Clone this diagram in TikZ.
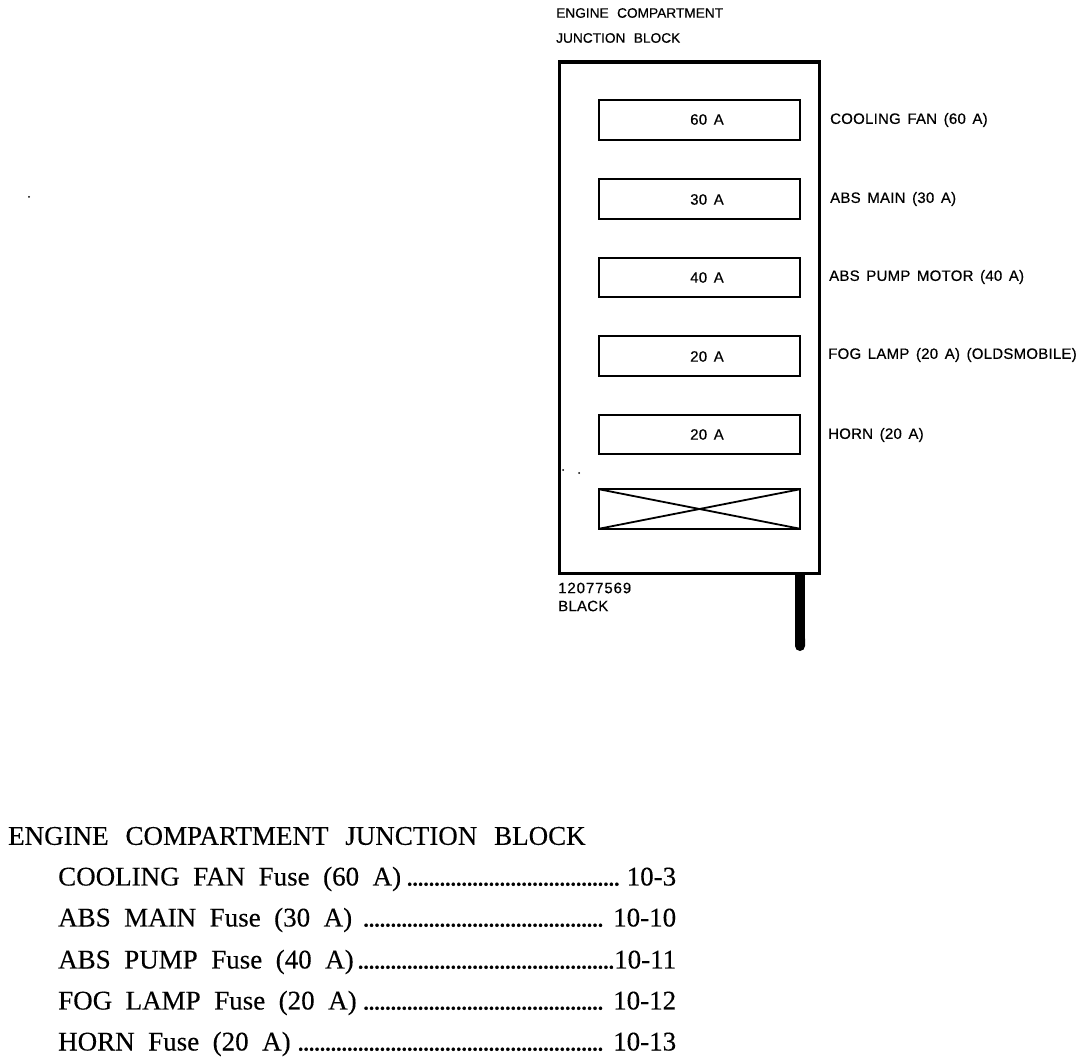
\documentclass[tikz,border=0pt]{standalone}
\usetikzlibrary{arrows.meta}
\usepackage{fontspec}
\setmainfont{Liberation Serif}[WordSpace=2,FakeBold=0.25]
\newfontfamily\headfont{Liberation Serif}[WordSpace=2.5,FakeBold=0.25]
\newfontfamily\dotfont{Liberation Serif}[FakeBold=1.2]
\newfontfamily\diagfont{Liberation Sans}[WordSpace=1.5,LetterSpace=1.6,FakeBold=0.5]
\newfontfamily\titlefont{Liberation Sans}[WordSpace=2.2,FakeBold=0.5]
\newfontfamily\partfont{Liberation Sans}[LetterSpace=6,FakeBold=0.5]
\newcommand{\dotrow}[4]{\hbox to 618pt{#1\hskip #3{\dotfont\leaders\hbox to 5.45pt{\hss.\hss}\hfill}\hskip #4 #2}}
\tikzset{
  diaglabel/.style={anchor=west,inner sep=0pt,font=\diagfont\fontsize{15}{15}\selectfont,text=black},
  titlelabel/.style={anchor=west,inner sep=0pt,font=\titlefont\fontsize{13.7}{14}\selectfont},
  partlabel/.style={anchor=west,inner sep=0pt,font=\partfont\fontsize{15}{15}\selectfont},
  fusebox/.style={draw=black,line width=2pt,minimum width=201pt,minimum height=39.5pt,inner sep=0pt,outer sep=0pt,fill=white},
  fusetext/.style={inner sep=0pt,font=\diagfont\fontsize{15}{15}\selectfont},
  listhead/.style={anchor=west,inner sep=0pt,font=\headfont\fontsize{27}{27}\selectfont},
  listrow/.style={anchor=west,inner sep=0pt,font=\fontsize{27}{27}\selectfont},
  speck/.style={fill=black,inner sep=0pt,minimum size=2pt,circle,draw=none}
}
\begin{document}
\begin{tikzpicture}[x=1pt,y=-1pt]
\useasboundingbox (0,0) rectangle (1088,1062);
\node[titlelabel] (t1) at (556,13) {ENGINE COMPARTMENT};
\node[titlelabel] (t2) at (556,38) {JUNCTION BLOCK};
\node[draw=black,line width=3.4pt,minimum width=260pt,minimum height=511pt,inner sep=0pt,anchor=north west] (block) at (558,60.5) {};
\node[fusebox] (f1) at (699,120) {};
\node[fusebox] (f2) at (699,199) {};
\node[fusebox] (f3) at (699,277.5) {};
\node[fusebox] (f4) at (699.5,356) {};
\node[fusebox] (f5) at (699.5,434.5) {};
\node[fusebox] (f6) at (699.5,509) {};
\draw[line width=1.8pt] (f6.north west) -- (f6.south east);
\draw[line width=1.8pt] (f6.south west) -- (f6.north east);
\node[fusetext] (a1) at (707,119.5) {60 A};
\node[fusetext] (a2) at (707,199.5) {30 A};
\node[fusetext] (a3) at (707,277.5) {40 A};
\node[fusetext] (a4) at (707,356.5) {20 A};
\node[fusetext] (a5) at (707,434.5) {20 A};
\node[diaglabel] (l1) at (830,120) {COOLING FAN (60 A)};
\node[diaglabel] (l2) at (830,199) {ABS MAIN (30 A)};
\node[diaglabel] (l3) at (829,277) {ABS PUMP MOTOR (40 A)};
\node[diaglabel] (l4) at (828,355) {FOG LAMP (20 A) (OLDSMOBILE)};
\node[diaglabel] (l5) at (828,435) {HORN (20 A)};
\node[partlabel] (n1) at (558,588) {12077569};
\node[diaglabel] (n2) at (558,606) {BLACK};
\coordinate (stubend) at (800,651);
\draw[line width=10pt,-{Round Cap[]}] (block.south -| stubend) -- (stubend);
\node[speck] (s1) at (29,197) {};
\node[speck] (s2) at (563,470) {};
\node[speck] (s3) at (579,473) {};
\node[listhead] (h) at (8,836) {ENGINE COMPARTMENT JUNCTION BLOCK};
\node[listrow] (r1) at (58,879) {\dotrow{COOLING FAN Fuse (60 A)}{10-3}{4pt}{6pt}};
\node[listrow] (r2) at (58,920) {\dotrow{ABS MAIN Fuse (30 A)}{10-10}{6pt}{7pt}};
\node[listrow] (r3) at (58,962) {\dotrow{ABS PUMP Fuse (40 A)}{10-11}{3pt}{0pt}};
\node[listrow] (r4) at (58,1003) {\dotrow{FOG LAMP Fuse (20 A)}{10-12}{6pt}{7pt}};
\node[listrow] (r5) at (58,1044) {\dotrow{HORN Fuse (20 A)}{10-13}{5pt}{7pt}};
\end{tikzpicture}
\end{document}
